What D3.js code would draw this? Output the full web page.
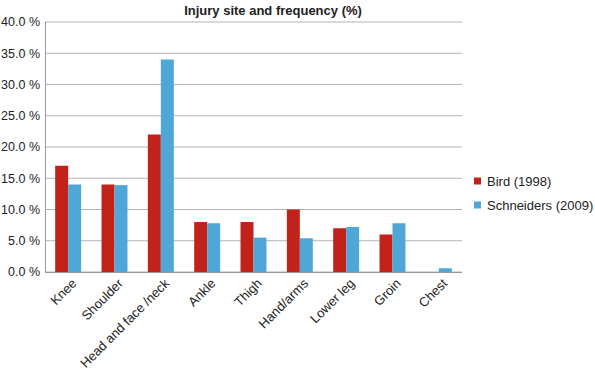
<!DOCTYPE html>
<html>
<head>
<meta charset="utf-8">
<script src="https://cdn.jsdelivr.net/npm/d3@7"></script>
<style>
  body { margin: 0; background: #fff; }
  svg { font-family: "Liberation Sans", Arial, sans-serif; }
</style>
</head>
<body>
<div id="chart"></div>
<script>
// chart data
const categories = ['Knee', 'Shoulder', 'Head and face /neck', 'Ankle', 'Thigh',
  'Hand/arms', 'Lower leg', 'Groin', 'Chest'];
const seriesNames = ['Bird (1998)', 'Schneiders (2009)'];
const bird = [17, 14, 22, 8, 8, 10, 7, 6, 0];
const schneiders = [14, 13.9, 34, 7.8, 5.5, 5.4, 7.2, 7.8, 0.6];
const yTicks = [0, 5, 10, 15, 20, 25, 30, 35, 40];
const colors = ['#c1231b', '#4fa7d7'];

const width = 595, height = 370;
const margin = { top: 22, right: 133, bottom: 98, left: 45 };

const svg = d3.select('#chart').append('svg')
  .attr('width', width)
  .attr('height', height);

const x = d3.scaleBand()
  .domain(categories)
  .range([margin.left, width - margin.right])
  .paddingInner(0.44)
  .paddingOuter(0.22);

const x1 = d3.scaleBand()
  .domain(seriesNames)
  .range([0, x.bandwidth()]);

const y = d3.scaleLinear()
  .domain([0, 40])
  .range([height - margin.bottom, margin.top]);

// gridlines
svg.append('g')
  .selectAll('line')
  .data(yTicks)
  .enter().append('line')
  .attr('x1', margin.left)
  .attr('x2', width - margin.right)
  .attr('y1', d => y(d))
  .attr('y2', d => y(d))
  .attr('stroke', '#b3b3b3')
  .attr('stroke-width', 1);

// y labels
svg.append('g')
  .selectAll('text')
  .data(yTicks)
  .enter().append('text')
  .attr('x', margin.left - 5)
  .attr('y', d => y(d))
  .attr('dy', '0.35em')
  .attr('text-anchor', 'end')
  .attr('font-size', 12.5)
  .attr('fill', '#222')
  .text(d => d.toFixed(1) + ' %');

// bars
const rows = categories.map((c, i) => ({ cat: c, vals: [bird[i], schneiders[i]] }));
const groups = svg.append('g')
  .selectAll('g')
  .data(rows)
  .enter().append('g')
  .attr('transform', d => `translate(${x(d.cat)},0)`);

groups.selectAll('rect')
  .data(d => d.vals.map((v, k) => ({ name: seriesNames[k], value: v, k: k })))
  .enter().append('rect')
  .filter(d => d.value > 0)
  .attr('x', d => x1(d.name))
  .attr('y', d => y(d.value))
  .attr('width', x1.bandwidth())
  .attr('height', d => y(0) - y(d.value))
  .attr('fill', d => colors[d.k]);

// axes lines
svg.append('line')
  .attr('x1', margin.left + 0.5).attr('x2', margin.left + 0.5)
  .attr('y1', margin.top).attr('y2', y(0))
  .attr('stroke', '#999');
svg.append('line')
  .attr('x1', margin.left).attr('x2', width - margin.right)
  .attr('y1', y(0) + 0.5).attr('y2', y(0) + 0.5)
  .attr('stroke', '#999');

// x labels
svg.append('g')
  .selectAll('text')
  .data(categories)
  .enter().append('text')
  .attr('transform', d => `translate(${x(d) + x.bandwidth() / 2 + 6},${y(0) + 9}) rotate(-45)`)
  .attr('text-anchor', 'end')
  .attr('dy', '0.35em')
  .attr('font-size', 13)
  .attr('fill', '#222')
  .text(d => d);

// title
svg.append('text')
  .attr('x', 273)
  .attr('y', 15)
  .attr('text-anchor', 'middle')
  .attr('font-size', 13)
  .attr('font-weight', 'bold')
  .attr('fill', '#222')
  .text('Injury site and frequency (%)');

// legend
const legend = svg.append('g')
  .selectAll('g')
  .data(seriesNames)
  .enter().append('g')
  .attr('transform', (d, i) => `translate(474,${181 + i * 24})`);
legend.append('rect')
  .attr('x', 0).attr('y', -3.5)
  .attr('width', 7).attr('height', 7)
  .attr('fill', (d, i) => colors[i]);
legend.append('text')
  .attr('x', 13)
  .attr('dy', '0.35em')
  .attr('font-size', 13)
  .attr('fill', '#222')
  .text(d => d);
</script>
</body>
</html>
